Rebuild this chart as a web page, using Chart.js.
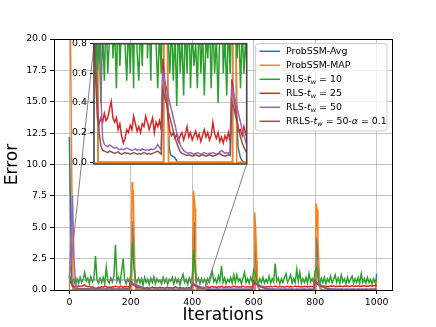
<!DOCTYPE html>
<html>
<head>
<meta charset="utf-8">
<script src="https://cdn.jsdelivr.net/npm/chart.js@4.4.1/dist/chart.umd.min.js"></script>
<style>
  html, body { margin: 0; padding: 0; background: #fff; }
  #wrap { position: relative; width: 436px; height: 327px; }
  #mainChart { position: absolute; left: 0; top: 0; }
  #insetChart { position: absolute; left: 60px; top: 30px; }
</style>
</head>
<body>
<div id="wrap">
  <canvas id="mainChart" width="436" height="327"></canvas>
  <canvas id="insetChart" width="200" height="145"></canvas>
</div>
<script>
// x grid shared by the noisy series (every 5 iterations)
const iterations = [];
for (let x = 0; x <= 1000; x += 5) iterations.push(x);

// *x* = italic, _w = subscript
const seriesNames = ['ProbSSM-Avg', 'ProbSSM-MAP', 'RLS-*t*_w = 10', 'RLS-*t*_w = 25', 'RLS-*t*_w = 50', 'RRLS-*t*_w = 50-*α* = 0.1'];

const xTicks = [0, 200, 400, 600, 800, 1000];
const yTicks = [0, 2.5, 5, 7.5, 10, 12.5, 15, 17.5, 20];
const insetYTicks = [0, 0.2, 0.4, 0.6, 0.8];
const insetXRange = [0, 443];
const insetYRange = [-0.012, 0.8];

// ProbSSM-Avg (sparse points)
const avgX = [0, 4, 8, 12, 202, 204, 207, 210, 214, 218, 222, 235, 242, 402, 404, 407, 410, 414, 418, 425, 432, 602, 604, 607, 611, 615, 620, 630, 802, 804, 807, 810, 814, 820, 830, 996, 1000];
const avgY = [12.2, 6, 1, 0, 0, 5.0, 5.5, 2.5, 0.4, 0.1, 0.05, 0.03, 0, 0, 5.0, 5.2, 1.5, 0.3, 0.1, 0.03, 0, 0, 3.8, 3.5, 1.0, 0.2, 0.05, 0, 0, 4.1, 3.9, 1.5, 0.3, 0.05, 0, 0, 1.3];

// ProbSSM-MAP (sparse points)
const mapX = [0, 5, 8, 12, 202, 204, 206, 208, 211, 214, 216, 402, 404, 406, 409, 411, 414, 602, 603, 606, 609, 613, 616, 801, 803, 806, 809, 812, 816, 996, 1000];
const mapY = [28, 16.5, 8.5, 0, 0, 8.6, 7.4, 7.6, 3.8, 0.6, 0, 0, 7.9, 7.4, 6.5, 2.0, 0, 0, 6.2, 5.0, 3.0, 0.5, 0, 0, 6.9, 6.4, 4.0, 2.0, 0, 0, 0.7];

// RLS-tw=10
const rls10 = [
  1.15,0.95,0.62,0.85,0.4,0.9,0.55,1.0,0.6,0.85,1.4,0.7,0.95,0.5,1.05,0.65,0.9,2.7,0.8,0.55,
  0.95,0.6,1.0,0.5,1.8,0.75,0.55,0.95,0.65,1.1,3.6,0.7,1.0,0.55,1.5,2.5,0.8,0.5,0.9,0.6,
  1.2,3.8,1.9,0.85,0.6,0.95,0.55,0.9,0.38,1.0,0.6,0.85,0.45,0.95,0.6,1.05,0.5,0.9,0.65,0.8,
  0.5,1.0,0.6,0.9,0.45,0.85,0.7,1.0,0.5,0.95,0.6,0.85,0.4,0.9,1.25,0.6,0.85,0.45,0.95,0.6,
  1.1,3.2,1.4,0.7,0.95,0.5,0.9,0.6,0.85,0.55,0.9,0.6,1.0,1.5,0.65,0.9,0.55,1.1,0.7,1.9,
  0.6,0.95,0.5,0.85,0.65,1.0,0.55,1.2,0.6,1.2,0.7,0.9,0.5,0.95,1.4,0.6,0.9,0.55,1.0,0.65,
  1.6,1.3,0.75,0.5,0.9,0.6,1.0,0.55,0.85,0.6,1.1,0.55,0.9,0.65,2.1,0.7,0.95,0.5,0.9,0.6,
  1.0,1.3,0.6,0.85,1.2,0.55,0.9,0.6,1.65,0.7,1.4,0.55,0.9,0.6,1.0,0.55,1.3,0.65,0.9,0.6,
  1.5,1.8,0.8,0.55,0.95,0.6,1.0,0.5,0.9,0.65,1.1,0.55,0.85,1.2,0.6,0.95,0.55,1.2,0.65,0.9,
  0.5,1.0,0.6,0.85,1.1,0.55,0.9,0.6,1.0,0.55,1.3,0.6,0.9,0.55,1.0,0.6,0.85,0.5,0.9,0.6,
  0.85
];

// RLS-tw=25
const rls25 = [
  1.0,0.55,0.3,0.26,0.3,0.27,0.33,0.28,0.3,0.36,0.41,0.3,0.27,0.3,0.22,0.26,0.18,0.13,0.16,0.22,
  0.2,0.25,0.22,0.31,0.26,0.21,0.24,0.2,0.26,0.24,0.31,0.27,0.22,0.26,0.3,0.2,0.27,0.24,0.28,0.22,
  0.7,0.55,0.42,0.3,0.21,0.18,0.2,0.16,0.19,0.14,0.18,0.2,0.15,0.19,0.24,0.17,0.2,0.15,0.18,0.21,
  0.16,0.19,0.14,0.18,0.22,0.17,0.2,0.15,0.18,0.27,0.19,0.16,0.2,0.14,0.17,0.13,0.18,0.15,0.2,0.14,
  0.56,0.47,0.37,0.28,0.21,0.22,0.18,0.24,0.19,0.22,0.26,0.2,0.24,0.28,0.22,0.25,0.2,0.27,0.23,0.3,
  0.24,0.21,0.26,0.23,0.28,0.22,0.25,0.3,0.24,0.27,0.22,0.26,0.24,0.29,0.25,0.22,0.27,0.24,0.26,0.23,
  0.75,0.6,0.45,0.34,0.28,0.25,0.3,0.26,0.23,0.28,0.25,0.3,0.24,0.27,0.32,0.26,0.24,0.29,0.25,0.28,
  0.23,0.27,0.3,0.25,0.28,0.24,0.27,0.31,0.26,0.29,0.24,0.27,0.25,0.3,0.26,0.28,0.24,0.29,0.26,0.27,
  0.78,0.62,0.48,0.37,0.3,0.28,0.32,0.27,0.3,0.26,0.31,0.28,0.33,0.27,0.3,0.26,0.32,0.29,0.27,0.31,
  0.28,0.33,0.27,0.3,0.34,0.28,0.31,0.29,0.33,0.28,0.32,0.3,0.34,0.29,0.32,0.3,0.35,0.31,0.33,0.36,
  0.4
];

// RLS-tw=50
const rls50 = [
  1.0,3.5,7.5,2.5,0.45,0.16,0.12,0.11,0.105,0.115,0.11,0.1,0.095,0.1,0.09,0.085,0.09,0.085,0.09,0.095,
  0.09,0.085,0.08,0.085,0.09,0.08,0.085,0.08,0.09,0.085,0.08,0.085,0.08,0.09,0.085,0.09,0.1,0.12,0.1,0.085,
  0.6,0.55,0.5,0.45,0.4,0.35,0.3,0.25,0.2,0.16,0.12,0.095,0.08,0.07,0.065,0.06,0.065,0.06,0.055,0.06,
  0.065,0.06,0.055,0.06,0.065,0.06,0.055,0.06,0.06,0.065,0.06,0.055,0.06,0.07,0.08,0.07,0.06,0.065,0.06,0.07,
  0.5,0.46,0.42,0.37,0.32,0.27,0.22,0.18,0.14,0.11,0.09,0.08,0.07,0.065,0.06,0.065,0.06,0.07,0.065,0.06,
  0.065,0.06,0.07,0.065,0.06,0.065,0.07,0.06,0.065,0.06,0.07,0.065,0.06,0.065,0.07,0.06,0.065,0.06,0.07,0.065,
  0.62,0.56,0.5,0.43,0.36,0.3,0.24,0.19,0.15,0.12,0.1,0.085,0.075,0.07,0.065,0.07,0.065,0.06,0.07,0.065,
  0.07,0.065,0.06,0.07,0.065,0.07,0.06,0.065,0.07,0.065,0.06,0.07,0.065,0.07,0.06,0.065,0.07,0.065,0.06,0.07,
  0.64,0.58,0.51,0.44,0.37,0.3,0.24,0.19,0.15,0.12,0.1,0.085,0.075,0.07,0.065,0.07,0.065,0.07,0.06,0.065,
  0.07,0.065,0.06,0.07,0.065,0.07,0.06,0.065,0.07,0.065,0.06,0.07,0.065,0.07,0.06,0.065,0.07,0.065,0.07,0.075,
  0.08
];

// RRLS-tw=50-alpha=0.1
const rrls50 = [
  1.1,0.65,0.4,0.2,0.11,0.08,0.075,0.07,0.065,0.075,0.07,0.065,0.06,0.065,0.07,0.06,0.055,0.06,0.065,0.06,
  0.06,0.055,0.06,0.065,0.06,0.055,0.06,0.055,0.06,0.065,0.06,0.055,0.06,0.055,0.06,0.065,0.07,0.075,0.065,0.055,
  0.49,0.44,0.4,0.35,0.3,0.26,0.21,0.17,0.13,0.1,0.07,0.06,0.055,0.05,0.045,0.05,0.045,0.04,0.045,0.05,
  0.045,0.04,0.045,0.05,0.045,0.04,0.045,0.05,0.045,0.04,0.045,0.05,0.055,0.06,0.05,0.045,0.04,0.045,0.05,0.045,
  0.41,0.37,0.32,0.27,0.22,0.17,0.13,0.1,0.075,0.06,0.05,0.045,0.05,0.045,0.04,0.045,0.05,0.045,0.04,0.045,
  0.05,0.045,0.04,0.045,0.05,0.045,0.04,0.045,0.05,0.045,0.04,0.045,0.05,0.045,0.04,0.045,0.05,0.045,0.04,0.045,
  0.55,0.5,0.44,0.37,0.3,0.24,0.18,0.13,0.1,0.075,0.06,0.05,0.045,0.05,0.045,0.04,0.045,0.05,0.045,0.04,
  0.045,0.05,0.045,0.04,0.045,0.05,0.045,0.04,0.045,0.05,0.045,0.04,0.045,0.05,0.045,0.04,0.045,0.05,0.045,0.04,
  0.56,0.5,0.44,0.37,0.3,0.24,0.18,0.13,0.1,0.075,0.06,0.05,0.045,0.05,0.045,0.04,0.045,0.05,0.045,0.04,
  0.045,0.05,0.045,0.04,0.045,0.05,0.045,0.04,0.045,0.05,0.045,0.04,0.045,0.05,0.045,0.04,0.045,0.05,0.045,0.05,
  0.06
];

const colors = ['#1f77b4', '#ff7f0e', '#2ca02c', '#d62728', '#9467bd', '#8c564b'];
const gridColor = 'rgba(176,176,176,0.75)';
const FONT = '"DejaVu Sans", sans-serif';
const SMALL = 9.4;

function paired(xs, ys) { return xs.map((x, i) => ({ x: x, y: ys[i] })); }
function onGrid(vals) { return iterations.map((x, i) => ({ x: x, y: vals[i] })); }
function plain(name) { return name.replace(/\*/g, '').replace(/_/g, ''); }

function makeDatasets() {
  const all = [paired(avgX, avgY), paired(mapX, mapY), onGrid(rls10), onGrid(rls25), onGrid(rls50), onGrid(rrls50)];
  return all.map((d, i) => ({
    label: plain(seriesNames[i]),
    data: d,
    borderColor: colors[i],
    backgroundColor: colors[i],
    borderWidth: 1.5,
    pointRadius: 0,
    fill: false,
    tension: 0,
    order: all.length - i   // matplotlib order: first series at the bottom
  }));
}

// draws 'RLS-*t*_w = 10' with italic / subscript parts
function drawRich(ctx, text, x, y) {
  const re = /\*([^*]+)\*(?:_(\w))?|([^*]+)/g;
  let m;
  ctx.textAlign = 'left';
  ctx.textBaseline = 'middle';
  while ((m = re.exec(text)) !== null) {
    if (m[1]) {
      ctx.font = 'italic ' + SMALL + 'px ' + FONT;
      ctx.fillText(m[1], x, y);
      x += ctx.measureText(m[1]).width;
      if (m[2]) {
        ctx.font = 'italic 6.6px ' + FONT;
        ctx.fillText(m[2], x, y + 2.5);
        x += ctx.measureText(m[2]).width;
      }
    } else {
      ctx.font = SMALL + 'px ' + FONT;
      ctx.fillText(m[3], x, y);
      x += ctx.measureText(m[3]).width;
    }
  }
}

Chart.defaults.color = '#000';
Chart.defaults.font.family = FONT;

// ---- inset ----
const insetCanvas = document.getElementById('insetChart');
const insetPlugin = {
  id: 'insetFrame',
  beforeDraw(chart) {
    const a = chart.chartArea, ctx = chart.ctx;
    ctx.save();
    ctx.fillStyle = '#fff';
    ctx.fillRect(a.left, a.top, a.right - a.left, a.bottom - a.top);
    ctx.restore();
  },
  afterDraw(chart) {
    const a = chart.chartArea, ctx = chart.ctx;
    ctx.save();
    ctx.strokeStyle = '#444';
    ctx.lineWidth = 1.6;
    ctx.strokeRect(a.left, a.top, a.right - a.left, a.bottom - a.top);
    ctx.restore();
  }
};

const inset = new Chart(insetCanvas, {
  type: 'line',
  data: { datasets: makeDatasets() },
  options: {
    responsive: false, animation: false, devicePixelRatio: 1,
    layout: { padding: { left: 0, top: 13.7, right: 13.3, bottom: 11 } },
    plugins: { legend: { display: false }, tooltip: { enabled: false } },
    scales: {
      x: { type: 'linear', min: insetXRange[0], max: insetXRange[1], display: false },
      y: {
        type: 'linear', min: insetYRange[0], max: insetYRange[1],
        afterBuildTicks: s => { s.ticks = insetYTicks.map(v => ({ value: v })); },
        afterFit: s => { s.width = 34; },
        ticks: { font: { size: SMALL }, color: '#000', padding: 3, autoSkip: false, callback: v => Number(v).toFixed(1) },
        grid: { color: gridColor, lineWidth: 1, tickLength: 4, tickColor: '#000', tickWidth: 1 },
        border: { display: false }
      }
    }
  },
  plugins: [insetPlugin]
});

// ---- main chart ----
const mainPlugin = {
  id: 'mainExtras',
  afterDraw(chart) {
    const a = chart.chartArea, ctx = chart.ctx;
    const xs = chart.scales.x, ys = chart.scales.y;
    ctx.save();

    // spines
    ctx.strokeStyle = '#000';
    ctx.lineWidth = 1;
    ctx.strokeRect(Math.round(a.left) + 0.5, Math.round(a.top) + 0.5, Math.round(a.right - a.left), Math.round(a.bottom - a.top));

    // zoom box and connectors
    const bx0 = xs.getPixelForValue(insetXRange[0]);
    const bx1 = xs.getPixelForValue(insetXRange[1]);
    const by0 = ys.getPixelForValue(insetYRange[1]);
    const by1 = ys.getPixelForValue(Math.max(insetYRange[0], 0));
    const ia = inset.chartArea;
    const ox = insetCanvas.offsetLeft, oy = insetCanvas.offsetTop;
    ctx.strokeStyle = '#808080';
    ctx.lineWidth = 1;
    ctx.strokeRect(bx0, by0, bx1 - bx0, by1 - by0);
    ctx.beginPath();
    ctx.moveTo(ox + ia.left, oy + ia.top);
    ctx.lineTo(bx0, by0);
    ctx.moveTo(ox + ia.right, oy + ia.bottom);
    ctx.lineTo(bx1, by1);
    ctx.stroke();

    // legend
    const lx = 255.5, ly = 43.5, lw = 131.5, lh = 87.5, rowH = 14;
    ctx.fillStyle = 'rgba(255,255,255,0.8)';
    ctx.strokeStyle = '#cccccc';
    ctx.beginPath();
    ctx.roundRect(lx, ly, lw, lh, 3);
    ctx.fill();
    ctx.stroke();
    seriesNames.forEach((name, i) => {
      const y = 51.3 + i * rowH;
      ctx.strokeStyle = colors[i];
      ctx.lineWidth = 1.5;
      ctx.beginPath();
      ctx.moveTo(259.5, y);
      ctx.lineTo(280, y);
      ctx.stroke();
      ctx.fillStyle = '#000';
      drawRich(ctx, name, 286, y);
    });

    // axis titles
    ctx.fillStyle = '#000';
    ctx.font = '17px ' + FONT;
    ctx.textAlign = 'center';
    ctx.textBaseline = 'middle';
    ctx.fillText('Iterations', (a.left + a.right) / 2, 316);
    ctx.translate(13, (a.top + a.bottom) / 2);
    ctx.rotate(-Math.PI / 2);
    ctx.fillText('Error', 0, 0);
    ctx.restore();
  }
};

new Chart(document.getElementById('mainChart'), {
  type: 'line',
  data: { datasets: makeDatasets() },
  options: {
    responsive: false, animation: false, devicePixelRatio: 1,
    layout: { padding: { left: 0, top: 39, right: 44, bottom: 0 } },
    plugins: { legend: { display: false }, tooltip: { enabled: false } },
    scales: {
      x: {
        type: 'linear', min: -50, max: 1050,
        afterBuildTicks: s => { s.ticks = xTicks.map(v => ({ value: v })); },
        afterFit: s => { s.height = 37; },
        ticks: { font: { size: SMALL }, color: '#000', padding: 3, maxRotation: 0, autoSkip: false, callback: v => String(v) },
        grid: { color: gridColor, lineWidth: 1, tickLength: 4, tickColor: '#000', tickWidth: 1 },
        border: { display: false }
      },
      y: {
        type: 'linear', min: 0, max: 20,
        afterBuildTicks: s => { s.ticks = yTicks.map(v => ({ value: v })); },
        afterFit: s => { s.width = 54; },
        ticks: { font: { size: SMALL }, color: '#000', padding: 3, autoSkip: false, callback: v => Number(v).toFixed(1) },
        grid: { color: gridColor, lineWidth: 1, tickLength: 4, tickColor: '#000', tickWidth: 1 },
        border: { display: false }
      }
    }
  },
  plugins: [mainPlugin]
});
</script>
</body>
</html>
